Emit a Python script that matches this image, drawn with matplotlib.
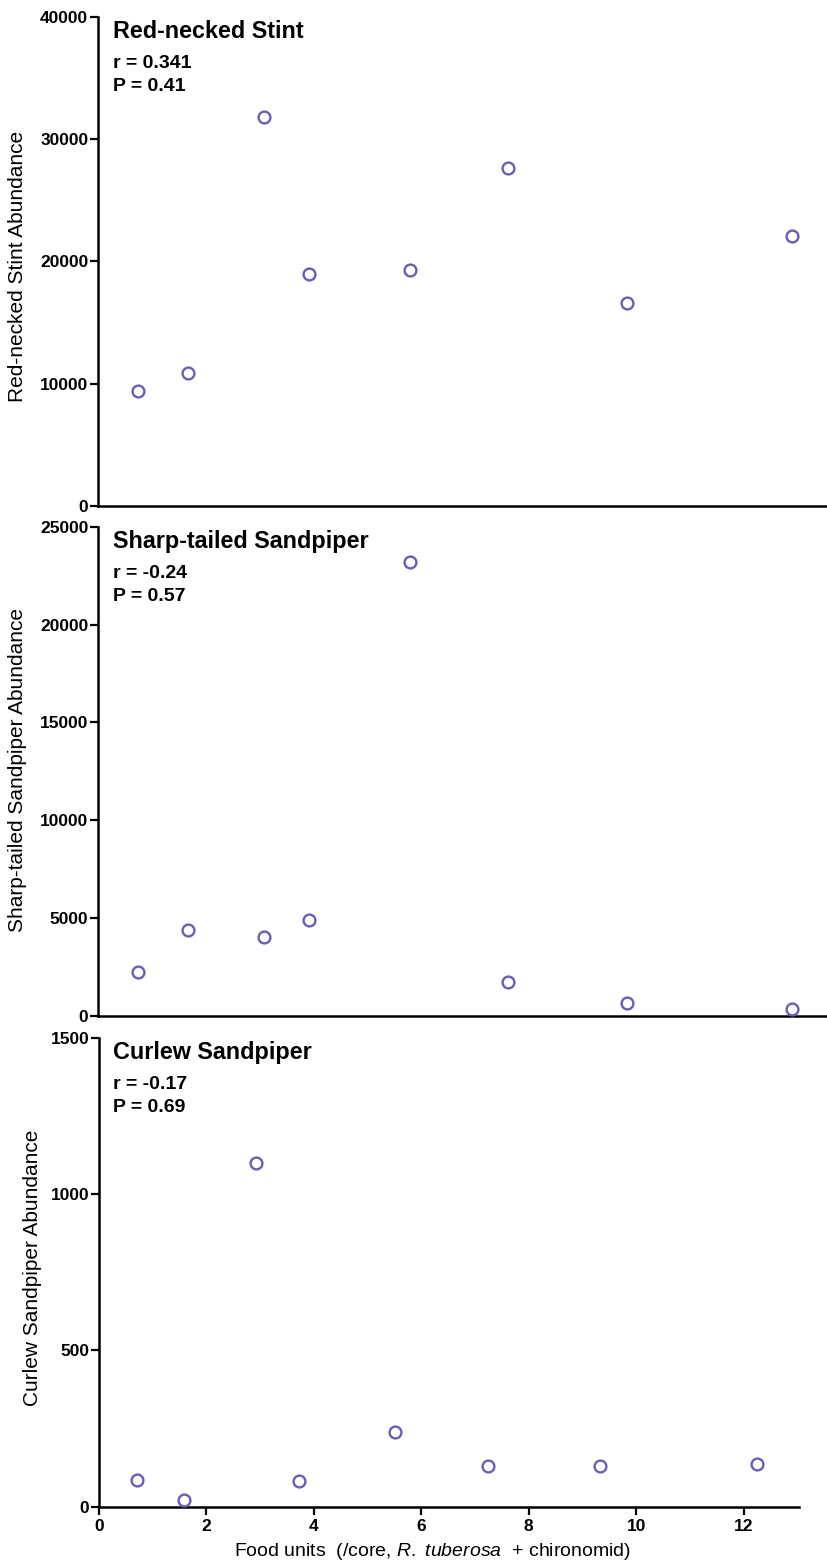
import matplotlib
matplotlib.use("Agg")
import matplotlib.pyplot as plt

plt.rcParams["font.family"] = ["Liberation Sans", "DejaVu Sans"]
plt.rcParams["mathtext.fontset"] = "custom"
plt.rcParams["mathtext.rm"] = "Liberation Sans"
plt.rcParams["mathtext.it"] = "Liberation Sans:italic"

# food units per core (same sites in every panel)
food_units = [0.71, 1.58, 2.92, 3.73, 5.51, 7.24, 9.33, 12.24]

stint = [9400, 10900, 31800, 19000, 19300, 27600, 16600, 22100]
sharp_tailed = [2250, 4400, 4050, 4900, 23200, 1750, 650, 380]
curlew = [84, 22, 1099, 81, 239, 130, 130, 136]

species = ["Red-necked Stint", "Sharp-tailed Sandpiper", "Curlew Sandpiper"]
r_values = ["0.341", "-0.24", "-0.17"]
p_values = ["0.41", "0.57", "0.69"]
y_ticks = [
    [0, 10000, 20000, 30000, 40000],
    [0, 5000, 10000, 15000, 20000, 25000],
    [0, 500, 1000, 1500],
]
x_ticks = [0, 2, 4, 6, 8, 10, 12]

W, H = 827, 1564
fig = plt.figure(figsize=(W / 100, H / 100), dpi=100)


def box(left, right, top, bottom):
    return [left / W, 1 - bottom / H, (right - left) / W, (bottom - top) / H]


axes = [
    fig.add_axes(box(98, 827, 16.6, 506)),
    fig.add_axes(box(98, 827, 526.7, 1016)),
    fig.add_axes(box(99, 799, 1037.9, 1506.7)),
]
series = [stint, sharp_tailed, curlew]
xlims = [(0, 12.86), (0, 12.86), (0, 13.03)]
ylabel_x = [18, 18, 33]
ylabel_y = [266, 770, 1268]

for i, ax in enumerate(axes):
    ax.plot(food_units, series[i], "o", linestyle="none", markersize=8.5,
            markerfacecolor="none", markeredgecolor="#6a5db5",
            markeredgewidth=1.7, clip_on=False, zorder=3)
    ax.set_xlim(*xlims[i])
    ax.set_ylim(y_ticks[i][0], y_ticks[i][-1])
    ax.set_yticks(y_ticks[i])
    ax.set_yticklabels([str(t) for t in y_ticks[i]], fontweight="bold", fontsize=12.5)
    for s in ["top", "right"]:
        ax.spines[s].set_visible(False)
    for s in ["left", "bottom"]:
        ax.spines[s].set_linewidth(1.8)
    ax.tick_params(axis="y", length=6, width=1.6, pad=1)
    if i < 2:
        ax.tick_params(axis="x", bottom=False, labelbottom=False)
    else:
        ax.set_xticks(x_ticks)
        ax.set_xticklabels([str(t) for t in x_ticks], fontweight="bold", fontsize=12.5)
        ax.tick_params(axis="x", length=6, width=1.6, pad=3)

    top_px = [16.6, 526.7, 1037.9][i]
    fig.text(113 / W, 1 - (top_px + 15) / H, species[i], fontsize=16.8,
             fontweight="bold", va="center", ha="left")
    fig.text(113 / W, 1 - (top_px + 47) / H, "r = " + r_values[i], fontsize=14,
             fontweight="bold", va="center", ha="left")
    fig.text(113 / W, 1 - (top_px + 70) / H, "P = " + p_values[i], fontsize=14,
             fontweight="bold", va="center", ha="left")

    fig.text(ylabel_x[i] / W, 1 - ylabel_y[i] / H,
             species[i] + " Abundance", rotation=90, fontsize=15,
             va="center", ha="center")

fig.text(432 / W, 1 - 1551 / H,
         "Food units  (/core, $\\it{R.}$ $\\it{tuberosa}$  + chironomid)",
         fontsize=14, ha="center", va="center")

fig.savefig("out.png", dpi=100)
